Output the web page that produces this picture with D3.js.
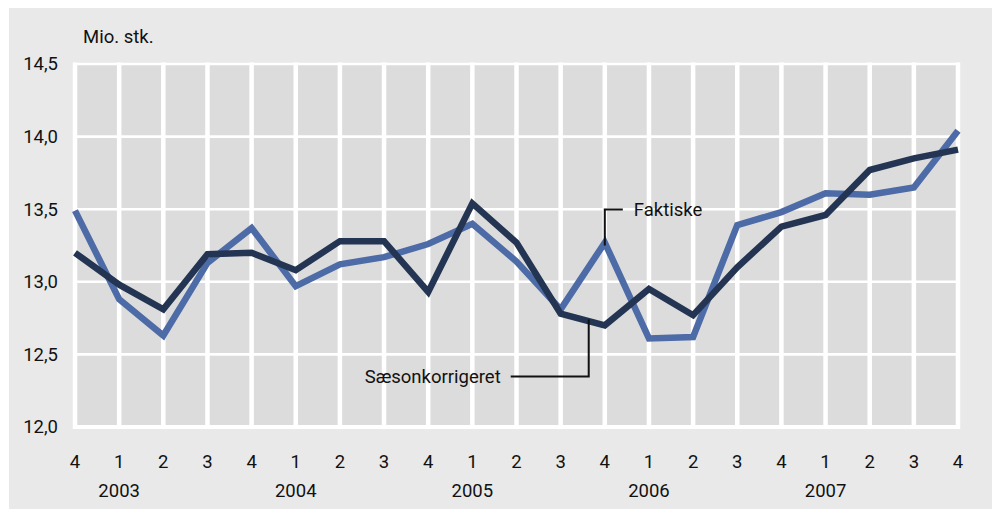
<!DOCTYPE html>
<html>
<head>
<meta charset="utf-8">
<script src="https://cdn.jsdelivr.net/npm/d3@7"></script>
<style>
  body { margin: 0; background: #ffffff; }
  text { font-family: Roboto, "Open Sans", sans-serif; fill: #111111; }
</style>
</head>
<body>
<div id="chart"></div>
<script>

// quarters from 2003 Q4 to 2008 Q4
var quarters = ["4", "1", "2", "3", "4", "1", "2", "3", "4", "1", "2", "3", "4", "1", "2", "3", "4", "1", "2", "3", "4"];
// year label sits under the index given
var years = ["2003", "2004", "2005", "2006", "2007"];
var yearIndex = [1, 5, 9, 13, 17];

var faktiske = [13.49, 12.88, 12.63, 13.13, 13.37, 12.97, 13.12, 13.17, 13.26, 13.40, 13.14, 12.81, 13.27, 12.61, 12.62, 13.39, 13.48, 13.61, 13.60, 13.65, 14.04];
var saeson = [13.20, 12.98, 12.81, 13.19, 13.20, 13.08, 13.28, 13.28, 12.93, 13.54, 13.27, 12.78, 12.70, 12.95, 12.77, 13.10, 13.38, 13.46, 13.77, 13.85, 13.91];

var yTicks = [12.0, 12.5, 13.0, 13.5, 14.0, 14.5];

function main() {

    var W = 998, H = 510;
    var margin = {top: 64, right: 40, bottom: 83, left: 75},
        width = W - margin.left - margin.right,
        height = H - margin.top - margin.bottom;

    var svg = d3.select("#chart")
        .append("svg")
        .attr("width", W)
        .attr("height", H);

    // outer grey panel
    svg.append("rect")
        .attr("x", 9).attr("y", 8)
        .attr("width", 983).attr("height", 501)
        .attr("fill", "#e9e9e9");

    var g = svg.append("g")
        .attr("transform", "translate(" + margin.left + "," + margin.top + ")");

    var x = d3.scaleLinear().domain([0, quarters.length - 1]).range([0, width]);
    var y = d3.scaleLinear().domain([12, 14.5]).range([height, 0]);

    // plot area
    g.append("rect")
        .attr("x", 0).attr("y", 0)
        .attr("width", width).attr("height", height)
        .attr("fill", "#dcdcdc");

    // white grid
    g.selectAll(".vgrid")
        .data(quarters)
        .join("line")
        .attr("x1", (d, i) => x(i)).attr("x2", (d, i) => x(i))
        .attr("y1", -1.5).attr("y2", height + 2)
        .attr("stroke", "#ffffff")
        .attr("stroke-width", 4.5);

    g.selectAll(".hgrid")
        .data(yTicks)
        .join("line")
        .attr("x1", -2).attr("x2", width + 2)
        .attr("y1", d => y(d)).attr("y2", d => y(d))
        .attr("stroke", "#ffffff")
        .attr("stroke-width", d => d == 12 ? 4 : 2.6);

    // y axis labels
    g.selectAll(".ylab")
        .data(yTicks)
        .join("text")
        .attr("x", -17)
        .attr("y", d => y(d))
        .attr("dy", "0.35em")
        .attr("text-anchor", "end")
        .attr("font-size", "18.5px")
        .text(d => d3.format(".1f")(d).replace(".", ","));

    g.append("text")
        .attr("x", 8)
        .attr("y", -21)
        .attr("font-size", "18.5px")
        .text("Mio. stk.");

    // x axis labels
    g.selectAll(".qlab")
        .data(quarters)
        .join("text")
        .attr("x", (d, i) => x(i))
        .attr("y", height + 41)
        .attr("text-anchor", "middle")
        .attr("font-size", "18.5px")
        .text(d => d);

    g.selectAll(".ylab2")
        .data(years)
        .join("text")
        .attr("x", (d, i) => x(yearIndex[i]))
        .attr("y", height + 70)
        .attr("text-anchor", "middle")
        .attr("font-size", "18.5px")
        .text(d => d);

    var line = d3.line()
        .x((d, i) => x(i))
        .y(d => y(d));

    g.append("path")
        .attr("d", line(faktiske))
        .attr("fill", "none")
        .attr("stroke", "#4d6ba6")
        .attr("stroke-width", 6.5);

    g.append("path")
        .attr("d", line(saeson))
        .attr("fill", "none")
        .attr("stroke", "#243553")
        .attr("stroke-width", 6.5);

    // annotation: Faktiske
    var fx = x(12), fy = y(faktiske[12]);
    g.append("path")
        .attr("d", "M" + fx + "," + (fy + 3) + "V" + (fy - 33) + "H" + (fx + 18))
        .attr("fill", "none")
        .attr("stroke", "#111")
        .attr("stroke-width", 2);
    g.append("text")
        .attr("x", fx + 29)
        .attr("y", fy - 33)
        .attr("dy", "0.35em")
        .attr("font-size", "18.5px")
        .text("Faktiske");

    // annotation: Sæsonkorrigeret
    var sx = (x(11) + x(12)) / 2 + 6;
    var sy = y((saeson[11] + saeson[12]) / 2);
    g.append("path")
        .attr("d", "M" + sx + "," + sy + "V" + (sy + 57) + "H" + (sx - 78))
        .attr("fill", "none")
        .attr("stroke", "#111")
        .attr("stroke-width", 2);
    g.append("text")
        .attr("x", sx - 88)
        .attr("y", sy + 57)
        .attr("dy", "0.35em")
        .attr("text-anchor", "end")
        .attr("font-size", "18.5px")
        .text("Sæsonkorrigeret");
}

main()
</script>
</body>
</html>
